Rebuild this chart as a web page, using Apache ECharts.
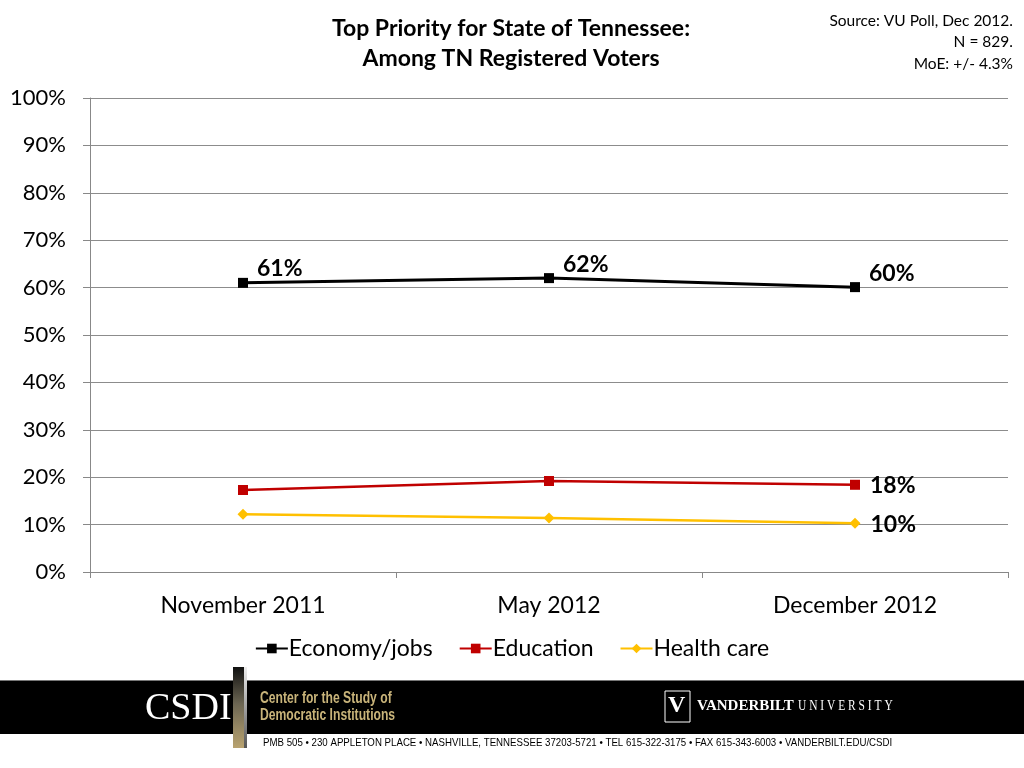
<!DOCTYPE html>
<html>
<head>
<meta charset="utf-8">
<script src="https://cdn.jsdelivr.net/npm/echarts@6/dist/echarts.min.js"></script>
<style>
html,body{margin:0;padding:0;background:#fff;}
#chart{width:1024px;height:768px;}
</style>
</head>
<body>
<div id="chart"></div>
<script>
var categories = ['November 2011', 'May 2012', 'December 2012'];
var economyJobs = [61.0, 62.0, 60.1];
var education = [17.3, 19.2, 18.4];
var healthCare = [12.2, 11.4, 10.3];
// which points carry a data label (by index)
var economyLabelIdx = [0, 1, 2];
var educationLabelIdx = [2];
var healthLabelIdx = [2];

var FONT = 'Lato, "Open Sans", "Noto Sans", sans-serif';

function withLabels(values, idxs) {
  return values.map(function (v, i) {
    return {
      value: v,
      label: { show: idxs.indexOf(i) >= 0 }
    };
  });
}

var labelStyle = {
  position: 'right',
  distance: 10,
  fontSize: 23,
  fontWeight: 'bold',
  color: '#000',
  fontFamily: FONT,
  formatter: function (p) { return Math.round(p.value) + '%'; }
};

var chart = echarts.init(document.getElementById('chart'), null, { renderer: 'canvas' });

chart.setOption({
  backgroundColor: '#fff',
  animation: false,
  textStyle: { fontFamily: FONT },
  grid: { left: 90, right: 16, top: 98, bottom: 196, containLabel: false },
  legend: {
    bottom: 103,
    left: 'center',
    itemWidth: 32,
    itemHeight: 12,
    itemGap: 26,
    textStyle: { fontSize: 23, color: '#000', fontFamily: FONT, padding: [0, 0, 0, -4] },
    data: ['Economy/jobs', 'Education', 'Health care']
  },
  xAxis: {
    type: 'category',
    data: categories,
    boundaryGap: true,
    axisLine: { show: true, lineStyle: { color: '#888', width: 1 } },
    axisTick: { show: true, length: 6, lineStyle: { color: '#888' } },
    axisLabel: { fontSize: 23, color: '#000', margin: 22, fontFamily: FONT }
  },
  yAxis: {
    type: 'value',
    min: 0,
    max: 100,
    interval: 10,
    axisLine: { show: true, lineStyle: { color: '#888', width: 1 } },
    axisTick: { show: true, length: 7, lineStyle: { color: '#888' } },
    axisLabel: { fontSize: 22, color: '#000', margin: 24, fontFamily: FONT, formatter: '{value}%' },
    splitLine: { show: true, lineStyle: { color: '#8c8c8c', width: 1 } }
  },
  series: [
    {
      name: 'Economy/jobs',
      type: 'line',
      data: withLabels(economyJobs, economyLabelIdx),
      symbol: 'rect',
      symbolSize: 10,
      color: '#000',
      lineStyle: { color: '#000', width: 3 },
      itemStyle: { color: '#000' },
      label: Object.assign({}, labelStyle, { distance: 9, offset: [0, -14] })
    },
    {
      name: 'Education',
      type: 'line',
      data: withLabels(education, educationLabelIdx),
      symbol: 'rect',
      symbolSize: 10,
      color: '#C00000',
      lineStyle: { color: '#C00000', width: 2.5 },
      itemStyle: { color: '#C00000' },
      label: Object.assign({}, labelStyle, { offset: [0, 1] })
    },
    {
      name: 'Health care',
      type: 'line',
      data: withLabels(healthCare, healthLabelIdx),
      symbol: 'diamond',
      symbolSize: 11,
      color: '#FFC000',
      lineStyle: { color: '#FFC000', width: 2.5 },
      itemStyle: { color: '#FFC000' },
      label: Object.assign({}, labelStyle, { offset: [0, 1] })
    }
  ],
  graphic: [
    {
      type: 'text', x: 511, y: 14,
      style: {
        text: 'Top Priority for State of Tennessee:\nAmong TN Registered Voters',
        fontSize: 23, fontWeight: 'bold', lineHeight: 30, align: 'center',
        fill: '#000', fontFamily: FONT
      }
    },
    {
      type: 'text', x: 1013, y: 10,
      style: {
        text: 'Source: VU Poll, Dec 2012.\nN = 829.\nMoE: +/- 4.3%',
        fontSize: 15.5, lineHeight: 21.5, align: 'right', fill: '#000', fontFamily: FONT
      }
    },
    // footer band
    { type: 'rect', shape: { x: 0, y: 681, width: 1024, height: 53 }, style: { fill: '#000' } },
    { type: 'rect', shape: { x: 0, y: 680, width: 1024, height: 1 }, style: { fill: '#777' } },
    {
      type: 'rect', shape: { x: 233, y: 667, width: 11, height: 81 },
      style: {
        fill: new echarts.graphic.LinearGradient(0, 0, 0, 1, [
          { offset: 0, color: '#111' }, { offset: 0.45, color: '#6b6552' }, { offset: 1, color: '#b9a370' }
        ])
      }
    },
    {
      type: 'rect', shape: { x: 244, y: 667, width: 3, height: 81 },
      style: {
        fill: new echarts.graphic.LinearGradient(0, 0, 0, 1, [
          { offset: 0, color: '#eee' }, { offset: 1, color: '#555' }
        ])
      }
    },
    {
      type: 'text', x: 145, y: 690,
      style: { text: 'CSDI', fontSize: 38, fontFamily: '"Liberation Serif", "DejaVu Serif", serif', fill: '#fff' }
    },
    {
      type: 'text', x: 260, y: 690, scaleX: 0.76,
      style: {
        text: 'Center for the Study of\nDemocratic Institutions', fontSize: 16, lineHeight: 17,
        fontWeight: 'bold', fontFamily: '"Liberation Sans", sans-serif', fill: '#c9b47a'
      }
    },
    { type: 'rect', shape: { x: 665, y: 691, width: 25, height: 31 }, style: { fill: '#000', stroke: '#fff', lineWidth: 1 } },
    {
      type: 'text', x: 668, y: 694,
      style: { text: 'V', fontSize: 24, fontWeight: 'bold', fontFamily: '"Liberation Serif", serif', fill: '#fff' }
    },
    {
      type: 'text', x: 697, y: 699,
      style: { text: 'VANDERBILT', fontSize: 15, fontWeight: 'bold', fontFamily: '"Liberation Serif", serif', fill: '#fff' }
    },
    {
      type: 'text', x: 798, y: 699, scaleX: 0.82,
      style: { text: 'U N I V E R S I T Y', fontSize: 14, fontFamily: '"Liberation Serif", serif', fill: '#fff' }
    },
    {
      type: 'text', x: 263, y: 737, scaleX: 0.88,
      style: {
        text: 'PMB 505 • 230 APPLETON PLACE • NASHVILLE, TENNESSEE 37203-5721 • TEL 615-322-3175 • FAX 615-343-6003 • VANDERBILT.EDU/CSDI',
        fontSize: 11, fontFamily: '"Liberation Sans", sans-serif', fill: '#000'
      }
    }
  ]
});
</script>
</body>
</html>
